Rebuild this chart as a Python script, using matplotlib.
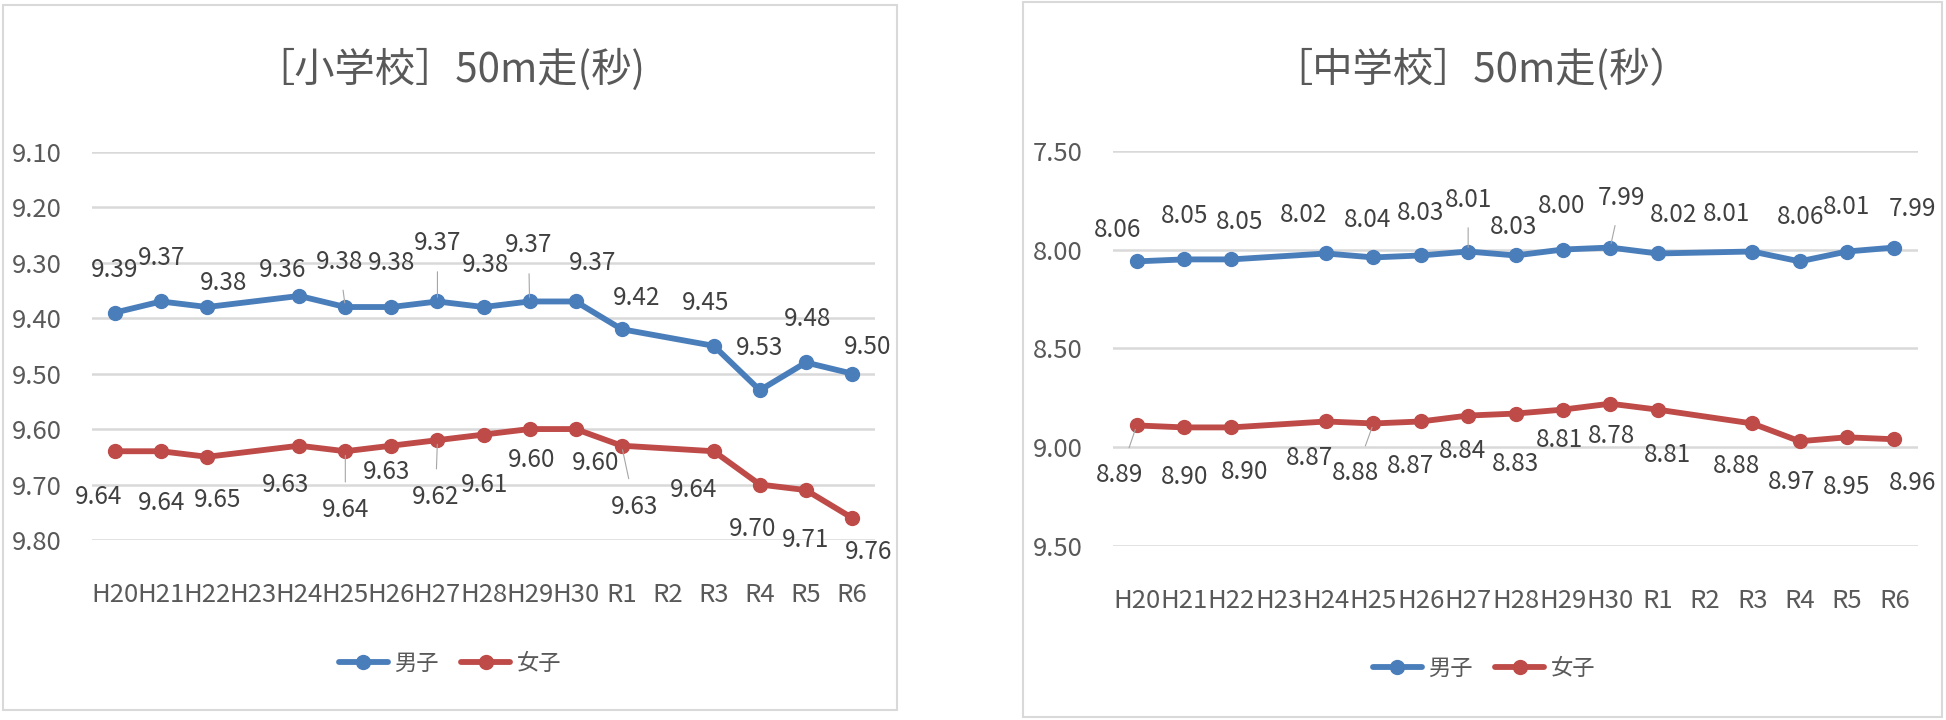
import numpy as np
import matplotlib
matplotlib.use("Agg")
import matplotlib.pyplot as plt
from matplotlib.patches import Rectangle

plt.rcParams['font.family'] = ['Noto Sans CJK JP', 'DejaVu Sans']

# --- Data ---
years = ['H20', 'H21', 'H22', 'H23', 'H24', 'H25', 'H26', 'H27', 'H28',
         'H29', 'H30', 'R1', 'R2', 'R3', 'R4', 'R5', 'R6']

elem_boys = [9.39, 9.37, 9.38, None, 9.36, 9.38, 9.38, 9.37, 9.38,
             9.37, 9.37, 9.42, None, 9.45, 9.53, 9.48, 9.50]
elem_girls = [9.64, 9.64, 9.65, None, 9.63, 9.64, 9.63, 9.62, 9.61,
              9.60, 9.60, 9.63, None, 9.64, 9.70, 9.71, 9.76]
junior_boys = [8.06, 8.05, 8.05, None, 8.02, 8.04, 8.03, 8.01, 8.03,
               8.00, 7.99, 8.02, None, 8.01, 8.06, 8.01, 7.99]
junior_girls = [8.89, 8.90, 8.90, None, 8.87, 8.88, 8.87, 8.84, 8.83,
                8.81, 8.78, 8.81, None, 8.88, 8.97, 8.95, 8.96]

elem_ticks = [9.10, 9.20, 9.30, 9.40, 9.50, 9.60, 9.70, 9.80]
junior_ticks = [7.50, 8.00, 8.50, 9.00, 9.50]

# label offsets (pixels, dx, dy downward positive)
elem_boys_off = [(0, -43), (0, -43), (16, -24), None, (-17, -26), (-6, -45), (0, -44),
                 (0, -58), (2, -42), (-1, -56), (17, -38), (15, -31), None,
                 (-8, -43), (0, -42), (2, -43), (16, -27)]
elem_girls_off = [(-16, 46), (0, 52), (10, 43), None, (-14, 39), (0, 59), (-5, 26),
                  (-2, 57), (1, 50), (2, 31), (20, 34), (13, 61), None,
                  (-20, 39), (-7, 44), (0, 50), (17, 34)]
junior_boys_off = [(-19, -31), (1, -43), (8, -37), None, (-22, -38), (-6, -37), (0, -42),
                   (0, -52), (-2, -28), (-1, -44), (11, -50), (16, -38), None,
                   (-26, -38), (1, -44), (0, -45), (18, -39)]
junior_girls_off = [(-17, 50), (1, 50), (13, 45), None, (-17, 37), (-18, 50), (-10, 45),
                    (-6, 35), (0, 50), (-3, 30), (1, 32), (10, 45), None,
                    (-16, 43), (-8, 41), (0, 50), (18, 44)]

# which labels get a thin leader line
elem_boys_lead = [5, 7, 9]
elem_girls_lead = [5, 7, 11]
junior_boys_lead = [7, 10]
junior_girls_lead = [0, 5]

BLUE = '#4A7EBB'
RED = '#BE4B48'
GRID = '#D9D9D9'
TEXT = '#595959'

W, H = 1946, 720
fig = plt.figure(figsize=(W / 100, H / 100), dpi=100)

# chart frames
fig.add_artist(Rectangle((3 / W, 1 - 710 / H), 894 / W, 705 / H, transform=fig.transFigure,
                         fill=False, edgecolor=GRID, lw=1.5))
fig.add_artist(Rectangle((1023 / W, 1 - 717 / H), 919 / W, 715 / H, transform=fig.transFigure,
                         fill=False, edgecolor=GRID, lw=1.5))


def draw_series(ax, values, color, offsets, leaders):
    idx = [i for i, v in enumerate(values) if v is not None]
    vals = [values[i] for i in idx]
    ax.plot(idx, vals, color=color, lw=4.2, marker='o', ms=10, solid_capstyle='round', zorder=3)
    for i, v in zip(idx, vals):
        dx, dy = offsets[i]
        arrow = None
        if i in leaders:
            arrow = dict(arrowstyle='-', color='#A6A6A6', lw=0.8, shrinkA=9, shrinkB=3)
        ax.annotate(f'{v:.2f}', (i, v), xytext=(dx, -dy), textcoords='offset pixels',
                    ha='center', va='center', fontsize=17.5, color='#404040',
                    arrowprops=arrow, zorder=4)


def setup(ax, ticks, lo, hi):
    ax.set_xlim(-0.5, len(years) - 0.5)
    ax.set_ylim(hi, lo)
    ax.set_yticks(ticks)
    ax.set_yticklabels([f'{t:.2f}' for t in ticks])
    ax.set_xticks(range(len(years)))
    ax.set_xticklabels(years)
    ax.grid(axis='y', color=GRID, lw=1.8)
    ax.set_axisbelow(True)
    for s in ax.spines.values():
        s.set_visible(False)
    ax.tick_params(axis='y', length=0, pad=22, labelsize=18.5, labelcolor=TEXT)
    ax.tick_params(axis='x', length=0, pad=30, labelsize=18.5, labelcolor=TEXT)


# --- Elementary school ---
ax1 = fig.add_axes([92 / W, 1 - 540 / H, 783 / W, 388.3 / H])
setup(ax1, elem_ticks, 9.10, 9.80)
draw_series(ax1, elem_boys, BLUE, elem_boys_off, elem_boys_lead)
draw_series(ax1, elem_girls, RED, elem_girls_off, elem_girls_lead)
fig.text(450 / W, 1 - 70 / H, '［小学校］50m走(秒)', ha='center', va='center',
         fontsize=29, color=TEXT)
ax1.legend(['男子', '女子'], loc='center', bbox_to_anchor=(450 / W, 1 - 663 / H),
           bbox_transform=fig.transFigure, ncol=2, frameon=False, fontsize=16,
           handlelength=2.2, columnspacing=1.0, handletextpad=0.3, labelcolor=TEXT)

# --- Junior high school ---
ax2 = fig.add_axes([1113 / W, 1 - 546 / H, 805 / W, 395.3 / H])
setup(ax2, junior_ticks, 7.50, 9.50)
draw_series(ax2, junior_boys, BLUE, junior_boys_off, junior_boys_lead)
draw_series(ax2, junior_girls, RED, junior_girls_off, junior_girls_lead)
fig.text(1481 / W, 1 - 70 / H, '［中学校］50m走(秒）', ha='center', va='center',
         fontsize=29, color=TEXT)
ax2.legend(['男子', '女子'], loc='center', bbox_to_anchor=(1484 / W, 1 - 668 / H),
           bbox_transform=fig.transFigure, ncol=2, frameon=False, fontsize=16,
           handlelength=2.2, columnspacing=1.0, handletextpad=0.3, labelcolor=TEXT)

fig.savefig('out.png', dpi=100)
